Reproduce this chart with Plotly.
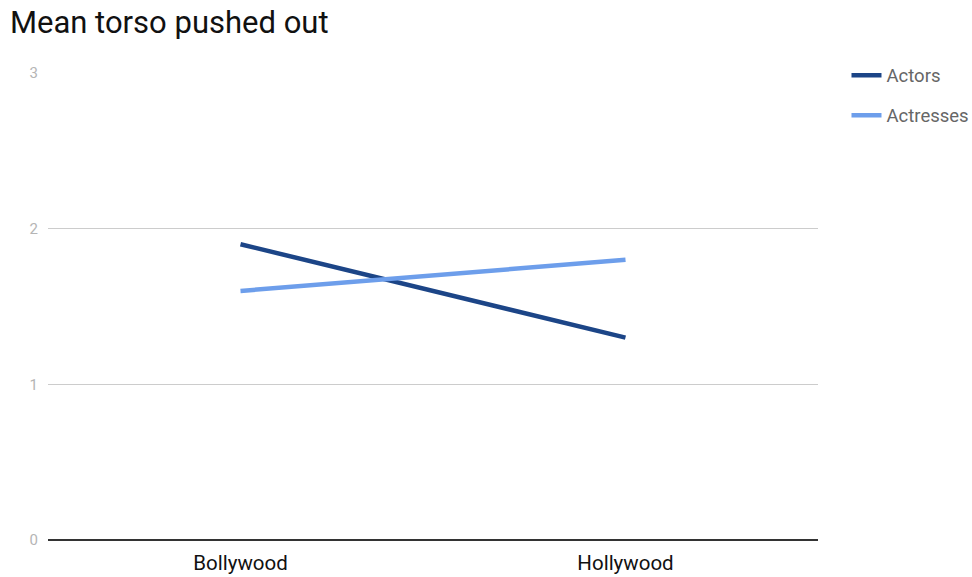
import plotly.graph_objects as go

categories = ["Bollywood", "Hollywood"]
actors = [1.9, 1.3]
actresses = [1.6, 1.8]
y_ticks = [0, 1, 2, 3]

fig = go.Figure()
fig.add_trace(go.Scatter(x=categories, y=actors, mode="lines", name="Actors", legendgroup="a",
                         line=dict(color="#1c4587", width=4.5)))
fig.add_trace(go.Scatter(x=categories, y=actresses, mode="lines", name="Actresses", legendgroup="b",
                         line=dict(color="#6d9eeb", width=4.5)))

fig.update_layout(
    width=972, height=577,
    margin=dict(l=48, r=154, t=73, b=37, autoexpand=False),
    paper_bgcolor="white", plot_bgcolor="white",
    font=dict(family="Roboto", color="#222"),
    title=dict(text="Mean torso pushed out", x=0.0102, xanchor="left", y=0.962, yanchor="middle",
               font=dict(size=31, color="#111", family="Roboto")),
    xaxis=dict(type="category", range=[-0.5, 1.5], showgrid=False, showline=False, zeroline=False,
               automargin=False, ticks="", ticklabelstandoff=8, tickfont=dict(size=20.5, color="#111")),
    yaxis=dict(range=[0, 3], tickvals=y_ticks, showgrid=True, gridcolor="#cccccc", gridwidth=1,
               automargin=False, zeroline=True, zerolinecolor="#333333", zerolinewidth=1.5,
               tickfont=dict(size=15, color="#b5b5b5"), ticks="", ticklabelstandoff=9),
    legend=dict(x=1.037, xanchor="left", y=1.035, yanchor="top", font=dict(size=18.5, color="#666666"),
                itemwidth=30, tracegroupgap=13, bgcolor="rgba(0,0,0,0)"),
    showlegend=True,
)
fig.write_html("out.html", config={"displayModeBar": False},
               post_script="document.body.style.margin='0';document.body.style.overflow='hidden';")
